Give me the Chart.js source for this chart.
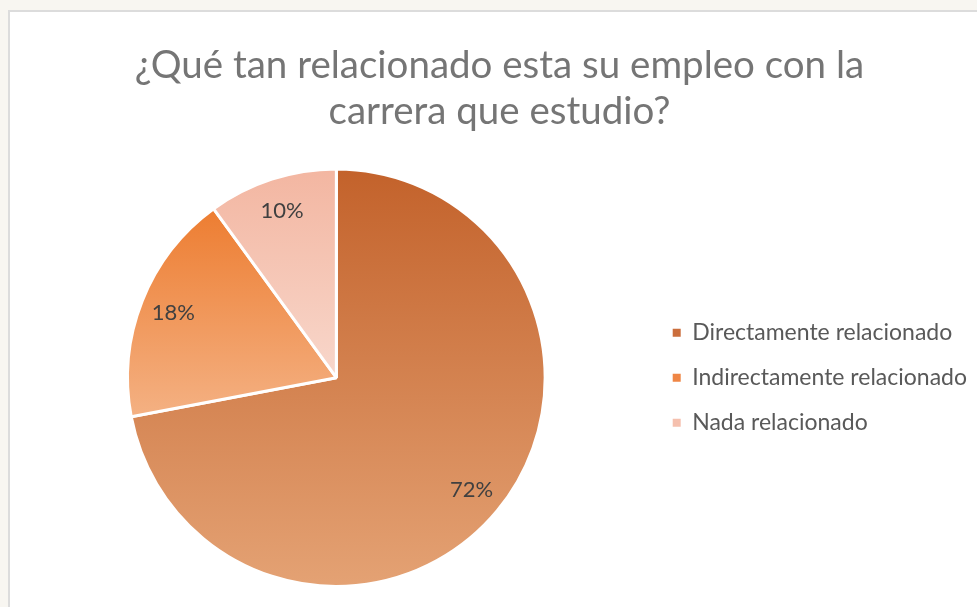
<!DOCTYPE html>
<html>
<head>
<meta charset="utf-8">
<script src="https://cdn.jsdelivr.net/npm/chart.js@4"></script>
<style>
  html, body { margin: 0; padding: 0; background: #f8f6f1; }
  #marco {
    position: absolute; left: 8px; top: 10px; width: 969px; height: 597px;
    background: #ffffff; border-left: 2px solid #dcdcdc; border-top: 2px solid #dcdcdc;
    box-sizing: border-box;
  }
</style>
</head>
<body>
<div id="marco"><canvas id="grafico"></canvas></div>
<script>
// datos del grafico
const categorias = ['Directamente relacionado', 'Indirectamente relacionado', 'Nada relacionado'];
const porcentajes = [72, 18, 10];
const titulo = ['¿Qué tan relacionado esta su empleo con la', 'carrera que estudio?'];

// colores: arriba / abajo del degradado de cada porcion, y el de la leyenda
const coloresArriba = ['#c3622b', '#ed7d31', '#f3b6a1'];
const coloresAbajo = ['#e4a274', '#f4b183', '#f8d7cb'];
const coloresLeyenda = ['#cb6e3c', '#ef8645', '#f5c0ae'];

document.addEventListener('DOMContentLoaded', function() {

    // degradado vertical segun el alto de cada porcion
    const pluginDegradado = {
        id: 'degradado',
        beforeDatasetsDraw(chart) {
            const ctx = chart.ctx;
            const meta = chart.getDatasetMeta(0);
            meta.data.forEach((arc, i) => {
                const r = arc.outerRadius;
                let a0 = arc.startAngle, a1 = arc.endAngle;
                let ys = [arc.y, arc.y + r * Math.sin(a0), arc.y + r * Math.sin(a1)];
                [-Math.PI / 2, Math.PI / 2, 3 * Math.PI / 2].forEach(a => {
                    if (a >= a0 && a <= a1) ys.push(arc.y + r * Math.sin(a));
                });
                const g = ctx.createLinearGradient(0, Math.min(...ys), 0, Math.max(...ys));
                g.addColorStop(0, coloresArriba[i]);
                g.addColorStop(1, coloresAbajo[i]);
                arc.options.backgroundColor = g;
            });
        }
    };

    // etiquetas de porcentaje dentro de la torta
    const pluginEtiquetas = {
        id: 'etiquetas',
        afterDatasetsDraw(chart) {
            const ctx = chart.ctx;
            const meta = chart.getDatasetMeta(0);
            ctx.save();
            ctx.font = '22px Lato, "Open Sans", sans-serif';
            ctx.fillStyle = '#404040';
            ctx.textAlign = 'center';
            ctx.textBaseline = 'middle';
            meta.data.forEach((arc, i) => {
                const medio = (arc.startAngle + arc.endAngle) / 2;
                const d = arc.outerRadius * 0.84;
                ctx.fillText(porcentajes[i] + '%', arc.x + d * Math.cos(medio), arc.y + d * Math.sin(medio));
            });
            ctx.restore();
        }
    };

    const ctx = document.getElementById('grafico').getContext('2d');
    new Chart(ctx, {
        type: 'pie',
        data: {
            labels: categorias,
            datasets: [{
                data: porcentajes,
                backgroundColor: coloresArriba,
                borderColor: '#ffffff',
                borderWidth: 3
            }]
        },
        options: {
            responsive: true,
            maintainAspectRatio: false,
            animation: false,
            layout: { padding: { left: 12, right: 0, top: 0, bottom: 19 } },
            plugins: {
                title: {
                    display: true,
                    text: titulo,
                    color: '#757575',
                    font: { family: 'Lato, "Open Sans", sans-serif', size: 38.5, weight: 'normal', lineHeight: 1.2 },
                    padding: { top: 30, bottom: 33 }
                },
                legend: {
                    position: 'right',
                    fullSize: false,
                    labels: {
                        generateLabels(chart) {
                            return categorias.map((c, i) => ({
                                text: c,
                                fillStyle: coloresLeyenda[i],
                                strokeStyle: coloresLeyenda[i],
                                lineWidth: 0,
                                index: i,
                                fontColor: '#595959'
                            }));
                        },
                        color: '#595959',
                        boxWidth: 8,
                        boxHeight: 8,
                        padding: 22,
                        font: { family: 'Lato, "Open Sans", sans-serif', size: 23 }
                    }
                },
                tooltip: { enabled: false }
            }
        },
        plugins: [pluginDegradado, pluginEtiquetas]
    });
});
</script>
</body>
</html>
